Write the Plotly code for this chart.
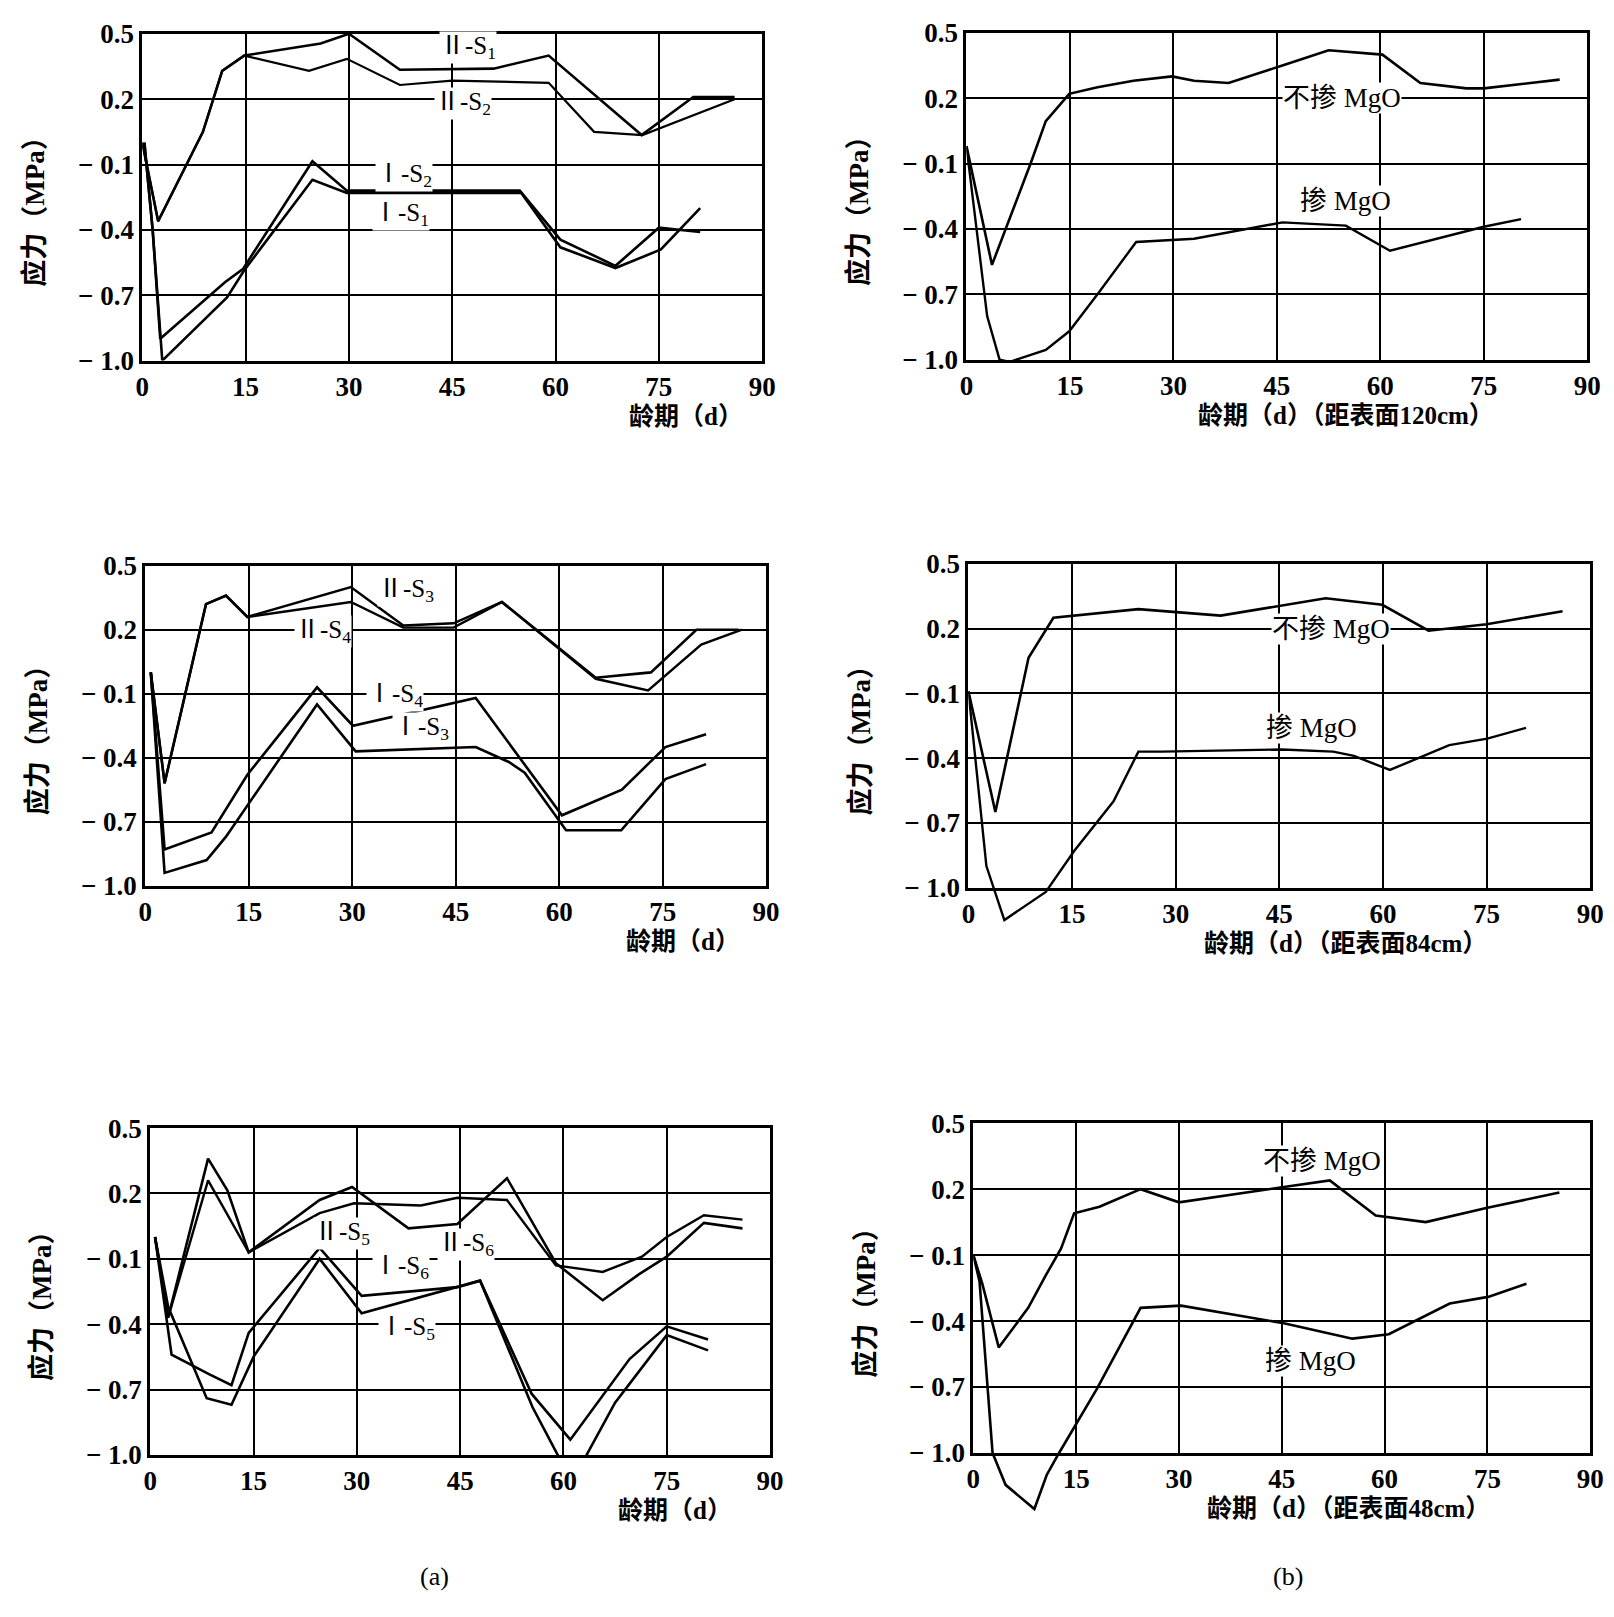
import plotly.graph_objects as go

W, H = 1614, 1617
FONT = "Liberation Serif, Noto Sans CJK SC, serif"

# ---------------- axis ticks ----------------
x_tickvals = [0, 15, 30, 45, 60, 75, 90]
x_ticktext = ["0", "15", "30", "45", "60", "75", "90"]
y_tickvals = [0.5, 0.2, -0.1, -0.4, -0.7, -1.0]
y_ticktext = ["0.5", "0.2", "− 0.1", "− 0.4", "− 0.7", "− 1.0"]

# ---------------- panel (a) top : S1, S2 ----------------
a1_II_S1_x = [0, 2.3, 8.8, 11.6, 14.8, 25.9, 30, 37.4, 51, 59, 72.5, 80, 86]
a1_II_S1_y = [0.0, -0.36, 0.05, 0.33, 0.40, 0.455, 0.50, 0.335, 0.34, 0.40, 0.035, 0.21, 0.21]
a1_II_S2_x = [0, 2.3, 8.8, 11.6, 14.8, 24.2, 29.7, 37.4, 45, 59, 65.6, 72.6, 86]
a1_II_S2_y = [0.0, -0.36, 0.05, 0.33, 0.40, 0.33, 0.385, 0.265, 0.285, 0.275, 0.05, 0.035, 0.20]
a1_I_S2_x = [0.3, 1.5, 2.6, 12, 14.6, 24.7, 29.7, 54.8, 60.7, 68.7, 75, 81]
a1_I_S2_y = [0.0, -0.4, -0.90, -0.64, -0.58, -0.085, -0.22, -0.22, -0.445, -0.565, -0.39, -0.41]
a1_I_S1_x = [0.3, 1.5, 2.9, 12.3, 14.8, 24.7, 29.7, 55, 60.7, 68.7, 75.3, 81]
a1_I_S1_y = [0.0, -0.4, -1.0, -0.71, -0.585, -0.17, -0.23, -0.23, -0.48, -0.575, -0.49, -0.30]

# ---------------- panel (a) middle : S3, S4 ----------------
a2_II_S3_x = [0.8, 2.8, 8.8, 11.7, 14.8, 29.8, 37.4, 44.7, 51.7, 65.3, 73.3, 79.9, 86]
a2_II_S3_y = [0.0, -0.52, 0.32, 0.36, 0.26, 0.40, 0.22, 0.23, 0.33, -0.025, 0.0, 0.20, 0.20]
a2_II_S4_x = [0.8, 2.8, 8.8, 11.7, 14.8, 29.8, 37.4, 44.7, 51.7, 65.3, 72.9, 80.6, 86.5]
a2_II_S4_y = [0.0, -0.52, 0.32, 0.36, 0.26, 0.33, 0.21, 0.21, 0.33, -0.03, -0.085, 0.13, 0.20]
a2_I_S4_x = [0.8, 2.8, 9.6, 14.8, 24.9, 30.1, 47.9, 60.4, 69.1, 75.4, 81.3]
a2_I_S4_y = [0.0, -0.83, -0.75, -0.48, -0.07, -0.25, -0.12, -0.67, -0.55, -0.35, -0.29]
a2_I_S3_x = [0.8, 2.8, 8.9, 11.7, 24.9, 30.5, 47.9, 52.7, 55, 61, 69, 75.4, 81.3]
a2_I_S3_y = [0.0, -0.94, -0.88, -0.77, -0.15, -0.37, -0.35, -0.42, -0.47, -0.74, -0.74, -0.50, -0.43]

# ---------------- panel (a) bottom : S5, S6 ----------------
a3_II_S5_x = [0.7, 2.6, 8.4, 14.3, 24.6, 29.6, 39.3, 44.6, 51.8, 58.9, 65.7, 71.4, 75, 80.4, 86]
a3_II_S5_y = [0.0, -0.37, 0.26, -0.07, 0.11, 0.155, 0.145, 0.18, 0.17, -0.13, -0.16, -0.09, 0.0, 0.10, 0.08]
a3_II_S6_x = [0.7, 2.6, 8.4, 11.2, 14.3, 24.6, 29.3, 37.5, 44.6, 51.8, 58.9, 65.7, 71, 75, 80.4, 86]
a3_II_S6_y = [0.0, -0.37, 0.36, 0.215, -0.07, 0.17, 0.23, 0.04, 0.06, 0.27, -0.12, -0.29, -0.17, -0.09, 0.065, 0.04]
a3_I_S6_x = [0.7, 3.1, 8.6, 11.8, 14.3, 24.6, 30.7, 44.6, 47.9, 55.4, 61, 69.6, 75, 81]
a3_I_S6_y = [0.0, -0.54, -0.63, -0.68, -0.44, -0.05, -0.27, -0.23, -0.20, -0.72, -0.93, -0.56, -0.41, -0.47]
a3_I_S5_x = [0.7, 2.6, 8.2, 11.8, 15, 24.6, 30.7, 44.6, 47.9, 55.5, 60, 62.5, 67.5, 75, 81]
a3_I_S5_y = [0.0, -0.32, -0.74, -0.77, -0.55, -0.10, -0.35, -0.23, -0.20, -0.78, -1.05, -1.05, -0.76, -0.45, -0.52]

# ---------------- panel (b) 120 cm ----------------
b1_no_x = [0, 3.7, 9.3, 11.5, 14.9, 19, 24.2, 29.8, 33, 38, 45.8, 52.5, 60.3, 65.8, 72.5, 75, 86]
b1_no_y = [-0.02, -0.565, -0.1, 0.095, 0.22, 0.25, 0.28, 0.30, 0.28, 0.27, 0.35, 0.42, 0.40, 0.27, 0.245, 0.245, 0.285]
b1_mgo_x = [0, 3, 4.8, 6.3, 11.5, 14.9, 19, 24.6, 33, 45.8, 55, 61.4, 75, 80.4]
b1_mgo_y = [-0.02, -0.8, -1.0, -1.01, -0.955, -0.87, -0.70, -0.46, -0.445, -0.37, -0.385, -0.50, -0.39, -0.355]

# ---------------- panel (b) 84 cm ----------------
b2_no_x = [0, 3.9, 8.7, 12.3, 24.6, 36.5, 51.7, 59.9, 66.6, 75, 86]
b2_no_y = [-0.09, -0.65, 0.065, 0.25, 0.29, 0.26, 0.34, 0.31, 0.19, 0.22, 0.28]
b2_mgo_x = [0, 2.6, 5.2, 11.2, 15.3, 21, 24.6, 28, 45.4, 52.8, 55.8, 61, 69.6, 75.1, 80.7]
b2_mgo_y = [-0.09, -0.9, -1.15, -1.02, -0.83, -0.6, -0.37, -0.37, -0.36, -0.37, -0.39, -0.455, -0.34, -0.31, -0.26]

# ---------------- panel (b) 48 cm ----------------
b3_no_x = [0, 1.3, 3.7, 8, 10.6, 12.8, 14.7, 18.4, 24.4, 30, 45.3, 52, 58.7, 66, 75, 85.5]
b3_no_y = [-0.1, -0.23, -0.52, -0.34, -0.19, -0.07, 0.09, 0.12, 0.20, 0.14, 0.21, 0.24, 0.08, 0.05, 0.115, 0.185]
b3_mgo_x = [0, 0.9, 2.8, 4.7, 8.9, 10.7, 12.5, 18, 24.4, 30.3, 45.3, 55.3, 60.6, 65.8, 69.5, 75.1, 80.7]
b3_mgo_y = [-0.1, -0.22, -1.0, -1.145, -1.255, -1.10, -1.0, -0.71, -0.34, -0.33, -0.41, -0.48, -0.46, -0.38, -0.32, -0.29, -0.23]

# ---------------- texts ----------------
y_title = "应力（MPa）"
x_title_a = "龄期（d）"
x_titles_b = ["龄期（d）（距表面120cm）", "龄期（d）（距表面84cm）", "龄期（d）（距表面48cm）"]
lab_no = "不掺 MgO"
lab_mgo = "掺 MgO"

# ---------------- layout geometry (pixels) ----------------
# (left, right, top, bottom, x-title centre)
panels = [
    (129, 757, 11, 344, 680),     # 1 TL
    (964, 1593, 10, 343, 1349),   # 2 TR
    (132, 761, 553, 879, 677),    # 3 ML
    (966, 1596, 551, 881, 1348),  # 4 MR
    (137, 765, 1126, 1459, 669),  # 5 BL
    (971, 1596, 1121, 1457, 1351),# 6 BR
]
ext_low = {2: -1.05, 4: -1.22, 6: -1.32}   # extended axes so right-panel curves may dip below the frame

fig = go.Figure()
TICKFONT = dict(family=FONT, size=27, color="black", weight="bold")

def ax_name(i):
    return "" if i == 1 else str(i)

layout = {}
annotations = []
for i, (l, r, t, b, xt) in enumerate(panels, 1):
    xd = [l / W, r / W]
    yd = [1 - b / H, 1 - t / H]
    layout["xaxis" + ax_name(i)] = dict(
        domain=xd, range=[0, 90], anchor="y" + ax_name(i),
        tickmode="array", tickvals=x_tickvals, ticktext=x_ticktext,
        showgrid=True, gridcolor="black", gridwidth=2.2,
        showline=True, mirror=True, linecolor="black", linewidth=3,
        zeroline=False, ticks="", ticklen=0,
        tickfont=TICKFONT, fixedrange=True,
    )
    layout["yaxis" + ax_name(i)] = dict(
        domain=yd, range=[-1.0, 0.5], anchor="x" + ax_name(i),
        tickmode="array", tickvals=y_tickvals, ticktext=y_ticktext,
        showgrid=True, gridcolor="black", gridwidth=2.2,
        showline=True, mirror=True, linecolor="black", linewidth=3,
        zeroline=False, ticks="", ticklen=0,
        tickfont=TICKFONT, fixedrange=True,
    )
    annotations.append(dict(
        xref="paper", yref="paper", x=(l - 109) / W, y=1 - ((t + b) / 2 + 8) / H,
        text=y_title, textangle=-90, showarrow=False, xanchor="center", yanchor="middle",
        font=dict(family=FONT, size=27, color="black", weight="bold")))
    xtitle = x_title_a if i % 2 == 1 else x_titles_b[(i - 2) // 2]
    annotations.append(dict(
        xref="paper", yref="paper", x=xt / W, y=1 - (b + 57) / H,
        text=xtitle, showarrow=False, xanchor="center", yanchor="middle",
        font=dict(family=FONT, size=25, color="black", weight="bold")))
    if i in ext_low:
        lo = ext_low[i]
        h = yd[1] - yd[0]
        yd2 = [yd[0] - (-1.0 - lo) / 1.5 * h, yd[1]]
        k = 6 + list(ext_low).index(i) + 1
        layout["xaxis" + str(k)] = dict(domain=xd, range=[0, 90], anchor="y" + str(k),
                                        visible=False, fixedrange=True)
        layout["yaxis" + str(k)] = dict(domain=yd2, range=[lo, 0.5], anchor="x" + str(k),
                                        visible=False, fixedrange=True)

def add(x, y, i, width=2.6):
    fig.add_trace(go.Scatter(x=x, y=y, mode="lines", xaxis="x" + ax_name(i), yaxis="y" + ax_name(i),
                             line=dict(color="black", width=width), showlegend=False, hoverinfo="skip"))

# panel a
add(a1_II_S1_x, a1_II_S1_y, 1, 2.6)
add(a1_II_S2_x, a1_II_S2_y, 1, 2.2)
add(a1_I_S2_x, a1_I_S2_y, 1, 2.6)
add(a1_I_S1_x, a1_I_S1_y, 1, 2.6)
add(a2_II_S3_x, a2_II_S3_y, 3, 2.6)
add(a2_II_S4_x, a2_II_S4_y, 3, 2.4)
add(a2_I_S4_x, a2_I_S4_y, 3, 2.6)
add(a2_I_S3_x, a2_I_S3_y, 3, 2.6)
add(a3_II_S5_x, a3_II_S5_y, 5, 2.4)
add(a3_II_S6_x, a3_II_S6_y, 5, 2.6)
add(a3_I_S6_x, a3_I_S6_y, 5, 2.6)
add(a3_I_S5_x, a3_I_S5_y, 5, 2.6)
# panel b (MgO series on extended axes so they may dip below the frame)
add(b1_no_x, b1_no_y, 2, 2.6)
add(b1_mgo_x, b1_mgo_y, 7, 2.4)
add(b2_no_x, b2_no_y, 4, 2.6)
add(b2_mgo_x, b2_mgo_y, 8, 2.4)
add(b3_no_x, b3_no_y, 6, 2.6)
add(b3_mgo_x, b3_mgo_y, 9, 2.6)

def lab(i, x, y, text, size=25):
    annotations.append(dict(xref="x" + ax_name(i), yref="y" + ax_name(i), x=x, y=y, text=text,
                            showarrow=False, xanchor="center", yanchor="middle", bgcolor="white",
                            borderpad=0, font=dict(family=FONT, size=size, color="black")))

lab(1, 47.3, 0.435, "Ⅱ-S<sub>1</sub>")
lab(1, 46.5, 0.18, "Ⅱ-S<sub>2</sub>")
lab(1, 38.0, -0.15, "Ⅰ-S<sub>2</sub>")
lab(1, 37.5, -0.33, "Ⅰ-S<sub>1</sub>")
lab(3, 37.8, 0.385, "Ⅱ-S<sub>3</sub>")
lab(3, 25.8, 0.19, "Ⅱ-S<sub>4</sub>")
lab(3, 36.2, -0.11, "Ⅰ-S<sub>4</sub>")
lab(3, 39.9, -0.265, "Ⅰ-S<sub>3</sub>")
lab(5, 27.9, 0.015, "Ⅱ-S<sub>5</sub>")
lab(5, 45.9, -0.035, "Ⅱ-S<sub>6</sub>")
lab(5, 36.4, -0.14, "Ⅰ-S<sub>6</sub>")
lab(5, 37.3, -0.42, "Ⅰ-S<sub>5</sub>")
lab(2, 54.5, 0.20, lab_no, 27)
lab(2, 55.0, -0.27, lab_mgo, 27)
lab(4, 52.5, 0.20, lab_no, 27)
lab(4, 49.7, -0.26, lab_mgo, 27)
lab(6, 50.9, 0.33, lab_no, 27)
lab(6, 49.2, -0.58, lab_mgo, 27)

annotations.append(dict(xref="paper", yref="paper", x=408 / W, y=1 - 1600 / H, text="(a)",
                        showarrow=False, font=dict(family=FONT, size=26, color="black")))
annotations.append(dict(xref="paper", yref="paper", x=1307 / W, y=1 - 1600 / H, text="(b)",
                        showarrow=False, font=dict(family=FONT, size=26, color="black")))

fig.update_layout(**layout)
fig.update_layout(
    width=W, height=H, margin=dict(l=0, r=0, t=0, b=0, pad=0),
    paper_bgcolor="white", plot_bgcolor="rgba(0,0,0,0)", showlegend=False,
    annotations=annotations,
)
fig.write_html("out.html")
